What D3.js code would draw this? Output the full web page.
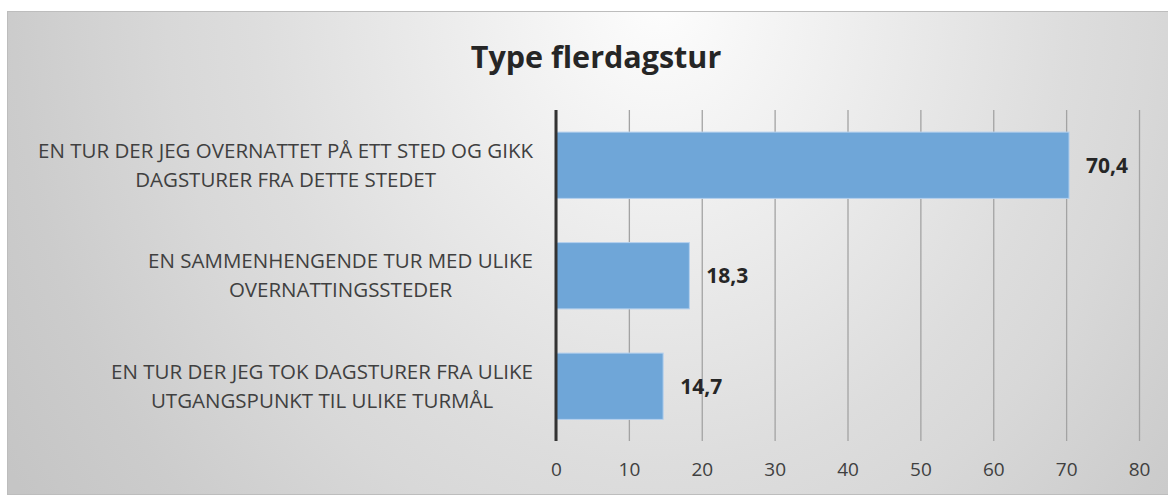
<!DOCTYPE html>
<html>
<head>
<meta charset="utf-8">
<script src="https://cdn.jsdelivr.net/npm/d3@7"></script>
<style>
  body { margin: 0; background: #fff; }
  svg { display: block; }
</style>
</head>
<body>
<svg id="chart" width="1168" height="495"></svg>
<script>
const categories = [
    ['EN TUR DER JEG OVERNATTET PÅ ETT STED OG GIKK', 'DAGSTURER FRA DETTE STEDET'],
    ['EN SAMMENHENGENDE TUR MED ULIKE', 'OVERNATTINGSSTEDER'],
    ['EN TUR DER JEG TOK DAGSTURER FRA ULIKE', 'UTGANGSPUNKT TIL ULIKE TURMÅL']
];
const values = [70.4, 18.3, 14.7];
const valueLabels = ['70,4', '18,3', '14,7'];
const xTicks = [0, 10, 20, 30, 40, 50, 60, 70, 80];
const title = 'Type flerdagstur';

const svg = d3.select('#chart');
const width = +svg.attr('width');
const height = +svg.attr('height');
const font = "'Open Sans', 'Liberation Sans', sans-serif";

// background gradient like the office chart area
const defs = svg.append('defs');
const grad = defs.append('radialGradient')
    .attr('id', 'bg')
    .attr('gradientUnits', 'userSpaceOnUse')
    .attr('cx', 0).attr('cy', 0).attr('r', 1)
    .attr('gradientTransform', 'translate(660,0) scale(770,880)');
grad.append('stop').attr('offset', '0%').attr('stop-color', '#fdfdfd');
grad.append('stop').attr('offset', '53%').attr('stop-color', '#dddddd');
grad.append('stop').attr('offset', '64%').attr('stop-color', '#d8d8d8');
grad.append('stop').attr('offset', '84%').attr('stop-color', '#cccccc');
grad.append('stop').attr('offset', '100%').attr('stop-color', '#c5c5c5');

svg.append('rect')
    .attr('x', 7.5).attr('y', 11.5)
    .attr('width', width - 7).attr('height', 483)
    .attr('fill', 'url(#bg)')
    .attr('stroke', '#bdbdbd')
    .attr('stroke-width', 1);

const plotTop = 110, plotBottom = 441;

const xScale = d3.scaleLinear()
    .domain([0, 80])
    .range([556, 1139]);

const yScale = d3.scaleBand()
    .domain(d3.range(categories.length))
    .range([plotTop, plotBottom + 0.5])
    .paddingInner(0.4)
    .paddingOuter(0.2);

// gridlines + tick labels
const xAxis = d3.axisBottom(xScale)
    .tickValues(xTicks)
    .tickSize(-(plotBottom - plotTop))
    .tickPadding(22)
    .tickFormat(d3.format('d'));

const xAxisG = svg.append('g')
    .attr('transform', `translate(0, ${plotBottom})`)
    .call(xAxis);

xAxisG.select('.domain').remove();
xAxisG.selectAll('.tick line')
    .attr('stroke', '#a3a3a3')
    .attr('stroke-width', 1.3);
xAxisG.selectAll('.tick text')
    .attr('fill', '#404040')
    .style('font-family', font)
    .style('font-size', '19px');

// bars
svg.selectAll('rect.bar').data(values)
    .enter().append('rect')
    .attr('class', 'bar')
    .attr('x', xScale(0))
    .attr('y', (d, i) => yScale(i))
    .attr('width', d => xScale(d) - xScale(0))
    .attr('height', yScale.bandwidth())
    .attr('fill', '#6fa6d8')
    .attr('stroke', '#b4d0ee')
    .attr('stroke-width', 1);

// value labels
svg.selectAll('text.value').data(values)
    .enter().append('text')
    .attr('class', 'value')
    .attr('x', d => xScale(d) + 17)
    .attr('y', (d, i) => yScale(i) + yScale.bandwidth() / 2)
    .attr('dy', '0.35em')
    .attr('fill', '#262626')
    .style('font-family', font)
    .style('font-size', '21px')
    .style('font-weight', 'bold')
    .text((d, i) => valueLabels[i]);

// category labels: centred lines, block right edge at 533
const labelRight = 533;
const catG = svg.selectAll('text.cat').data(categories)
    .enter().append('text')
    .attr('class', 'cat')
    .attr('text-anchor', 'middle')
    .attr('fill', '#404040')
    .style('font-family', font)
    .style('font-size', '20.5px');

catG.selectAll('tspan').data((d, i) => d.map(line => ({ line, i, n: d.length })))
    .enter().append('tspan')
    .attr('y', (d, j) => yScale(d.i) + yScale.bandwidth() / 2 + (j - (d.n - 1) / 2) * 29)
    .attr('dy', '0.35em')
    .text(d => d.line);

catG.each(function() {
    const spans = d3.select(this).selectAll('tspan');
    let maxW = 0;
    spans.each(function() { maxW = Math.max(maxW, this.getComputedTextLength()); });
    spans.attr('x', labelRight - maxW / 2);
});

// y axis line
svg.append('line')
    .attr('x1', xScale(0)).attr('x2', xScale(0))
    .attr('y1', plotTop).attr('y2', plotBottom)
    .attr('stroke', '#333')
    .attr('stroke-width', 3);

svg.append('text')
    .attr('x', 596)
    .attr('y', 57)
    .attr('dy', '0.35em')
    .attr('text-anchor', 'middle')
    .attr('fill', '#262626')
    .style('font-family', font)
    .style('font-size', '30.5px')
    .style('font-weight', 'bold')
    .text(title);
</script>
</body>
</html>
